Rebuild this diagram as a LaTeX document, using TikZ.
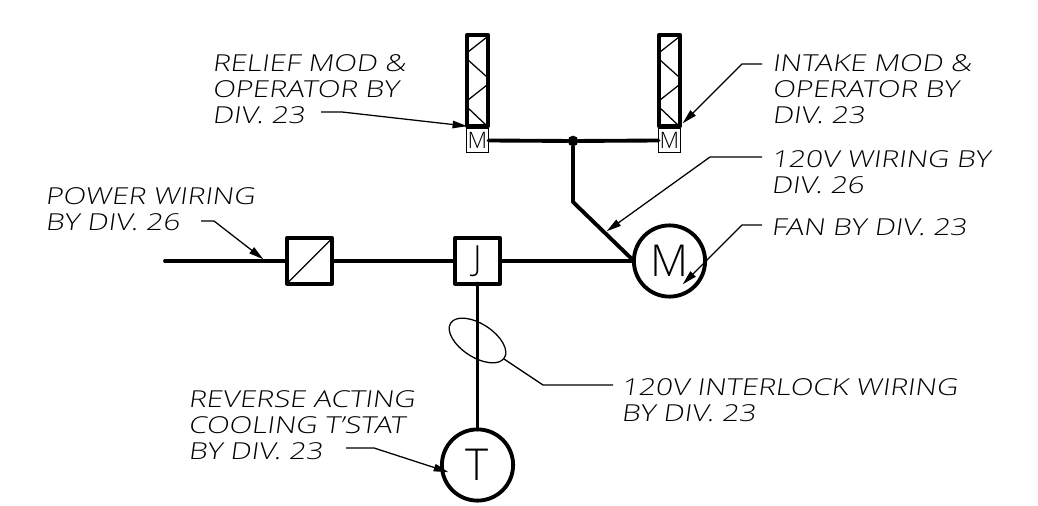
\documentclass[tikz,border=0pt]{standalone}
\usepackage{fontspec}
\setmainfont[FakeStretch=1.27,FakeSlant=0.14]{Open Sans Light}
\newfontfamily\symbolfont{Open Sans Light}
\usetikzlibrary{arrows.meta,shapes.geometric,positioning}

\tikzset{
  wire/.style={line width=2.9pt,line join=round,line cap=round},
  leader/.style={line width=0.95pt,-{Triangle[length=11pt,width=5.6pt]},shorten >=-0.3pt},
  label/.style={anchor=north west,inner sep=0pt,align=left,font=\fontsize{17.5}{19.5}\selectfont},
  sqbox/.style={draw,line width=2.9pt,line join=round,minimum size=34pt,inner sep=0pt,outer sep=0pt,font=\symbolfont\fontsize{26}{26}\selectfont},
  ring/.style={draw,circle,line width=2.9pt,minimum size=53.4pt,inner sep=0pt,outer sep=0pt,font=\symbolfont\fontsize{33}{33}\selectfont},
  damper/.style={draw,line width=2.9pt,line join=round,minimum width=16pt,minimum height=68.4pt,inner sep=0pt,outer sep=0pt},
  modbox/.style={draw,line width=0.95pt,minimum width=16.5pt,minimum height=18pt,inner sep=0pt,outer sep=0pt,font=\symbolfont\fontsize{17}{17}\selectfont},
}

\begin{document}
\begin{tikzpicture}[x=0.75pt,y=0.75pt,yscale=-1,xscale=1]
\useasboundingbox (0,0) rectangle (1038,506);

%Dampers
\foreach \i/\x in {1/477.5,2/669.5}{
  \node[damper] (damper\i) at (\x,80.5) {};
  \node[modbox] (mod\i) at (\x,140.5) {M};
  \draw[line width=0.95pt] (\x+9.5,37) -- (\x-9.5,52);
  \draw[line width=0.95pt] (\x-9.5,60) -- (\x+9.5,77);
  \draw[line width=0.95pt] (\x+9.5,85) -- (\x-9.5,100);
  \draw[line width=0.95pt] (\x-9.5,108) -- (\x+9.5,126);
}

%Devices
\node[sqbox] (starter) at (309.5,261) {};
\node[sqbox] (jbox) at (477.5,261) {J};
\node[ring] (fan) at (669.5,261) {M};
\node[ring] (stat) at (477.5,465) {T};
\node[circle,fill,inner sep=0pt,minimum size=8pt] (tee) at (573,141) {};
\node[draw,ellipse,rotate=-33,line width=0.95pt,minimum width=48pt,minimum height=25pt,inner sep=0pt,outer sep=0pt] (bundle) at (477.5,340.5) {};
\coordinate (feed) at (165,261);
\coordinate (bend) at (573,202);
\draw[line width=0.95pt] (starter.south west) -- (starter.north east);

%Wiring
\draw[wire] (feed) -- (starter.west);
\draw[wire] (starter.east) -- (jbox.west);
\draw[wire] (jbox.east) -- (fan.west);
\draw[wire] (jbox.south) -- (stat.north);
\draw[wire] (mod1.east) -- (tee) -- (mod2.west);
\draw[wire] (tee) -- (bend) -- (fan.west);

%Text
\node[label] (relief) at (212,54) {RELIEF MOD \&\\OPERATOR BY\\DIV. 23};
\node[label] (intake) at (772,54) {INTAKE MOD \&\\OPERATOR BY\\DIV. 23};
\node[label] (lowvolt) at (771,150) {120V WIRING BY\\DIV. 26};
\node[label] (fanby) at (771,218) {FAN BY DIV. 23};
\node[label] (power) at (45,187) {POWER WIRING\\BY DIV. 26};
\node[label] (reverse) at (188,390) {REVERSE ACTING\\COOLING T'STAT\\BY DIV. 23};
\node[label] (interlock) at (621,378) {120V INTERLOCK WIRING\\BY DIV. 23};

%Leaders
\coordinate (reliefA) at (321,112);
\coordinate (reliefB) at (342,112);
\coordinate (intakeA) at (762,64);
\coordinate (intakeB) at (742,64);
\coordinate (intakeC) at (683,123);
\coordinate (lowvoltA) at (762,157);
\coordinate (lowvoltB) at (710,157);
\coordinate (lowvoltC) at (607,231);
\coordinate (fanA) at (762,225);
\coordinate (fanB) at (742,225);
\coordinate (fanC) at (683,284);
\coordinate (powerA) at (201,221);
\coordinate (powerB) at (214,221);
\coordinate (powerC) at (263,259);
\coordinate (reverseA) at (346,448);
\coordinate (reverseB) at (374,448);
\coordinate (reverseC) at (448,472);
\coordinate (bundleA) at (504,359);
\coordinate (bundleB) at (543,385);
\coordinate (bundleC) at (613,385);
\draw[leader] (reliefA) -- (reliefB) -- (damper1.south west);
\draw[leader] (intakeA) -- (intakeB) -- (intakeC);
\draw[leader] (lowvoltA) -- (lowvoltB) -- (lowvoltC);
\draw[leader] (fanA) -- (fanB) -- (fanC);
\draw[leader] (powerA) -- (powerB) -- (powerC);
\draw[leader] (reverseA) -- (reverseB) -- (reverseC);
\draw[line width=0.95pt] (bundleA) -- (bundleB) -- (bundleC);

\end{tikzpicture}
\end{document}
